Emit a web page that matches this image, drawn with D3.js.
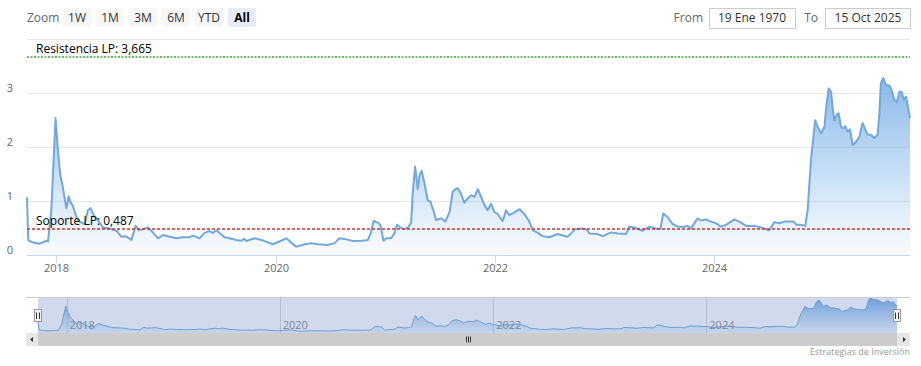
<!DOCTYPE html>
<meta charset="utf-8">
<style>
body { margin: 0; background: #fff; }
svg { font-family: "Open Sans", "Liberation Sans", Arial, sans-serif; }
.grid line { stroke: #e6e6e6; stroke-width: 1px; }
.ylab { fill: #666; font-size: 11px; }
.xlab { fill: #666; font-size: 11px; }
.btn text { font-size: 12px; fill: #333; }
</style>
<svg width="921" height="366"></svg>
<script src="https://cdnjs.cloudflare.com/ajax/libs/d3/7.8.5/d3.min.js"></script>
<script>
var dates = ["2017-09-25","2017-09-29","2017-10-15","2017-11-06","2017-11-29","2017-12-04","2017-12-15","2017-12-29",
  "2018-01-06","2018-01-14","2018-01-21","2018-02-03","2018-02-11","2018-02-16","2018-02-25","2018-03-08","2018-03-19",
  "2018-04-05","2018-04-16","2018-04-25","2018-05-05","2018-05-19","2018-06-05","2018-06-27","2018-07-20","2018-08-05",
  "2018-08-20","2018-09-08","2018-09-22","2018-10-03","2018-10-16","2018-11-02","2018-11-17","2018-12-05","2018-12-22",
  "2019-01-13","2019-02-05","2019-02-26","2019-03-21","2019-04-01","2019-04-23","2019-05-10","2019-05-26","2019-06-06",
  "2019-06-18","2019-07-15","2019-08-01","2019-08-23","2019-09-09","2019-09-18","2019-09-26","2019-10-23","2019-11-15",
  "2019-12-23","2020-01-14","2020-02-06","2020-02-22","2020-03-10","2020-04-07","2020-04-29","2020-05-21","2020-06-23",
  "2020-07-16","2020-08-01","2020-08-24","2020-09-15","2020-10-13","2020-11-04","2020-11-13","2020-11-23","2020-12-07",
  "2020-12-15","2020-12-26","2021-01-04","2021-01-20","2021-01-31","2021-02-09","2021-02-23","2021-03-06","2021-03-17",
  "2021-03-28","2021-04-02","2021-04-10","2021-04-19","2021-04-25","2021-05-02","2021-05-11","2021-05-22","2021-05-31",
  "2021-06-10","2021-06-19","2021-07-06","2021-07-20","2021-08-03","2021-08-13","2021-08-22","2021-08-30","2021-09-10",
  "2021-09-21","2021-10-02","2021-10-14","2021-10-25","2021-11-05","2021-11-16","2021-11-27","2021-12-08","2021-12-19",
  "2021-12-30","2022-01-10","2022-01-27","2022-02-07","2022-02-18","2022-03-07","2022-03-24","2022-04-09","2022-04-26",
  "2022-05-07","2022-05-24","2022-06-09","2022-07-01","2022-07-29","2022-08-31","2022-09-12","2022-09-25","2022-10-15",
  "2022-11-01","2022-11-12","2022-12-09","2022-12-26","2023-01-23","2023-02-14","2023-03-14","2023-03-25","2023-04-11",
  "2023-05-08","2023-05-31","2023-06-22","2023-07-06","2023-07-16","2023-07-31","2023-08-16","2023-09-02","2023-09-24",
  "2023-10-05","2023-10-16","2023-11-07","2023-11-19","2023-12-05","2023-12-22","2024-01-08","2024-01-24","2024-02-10",
  "2024-03-09","2024-03-31","2024-04-17","2024-05-14","2024-06-06","2024-07-03","2024-07-20","2024-08-06","2024-08-22",
  "2024-09-08","2024-09-22","2024-10-02","2024-10-17","2024-10-31","2024-11-08","2024-11-19","2024-12-03","2024-12-11",
  "2024-12-23","2025-01-03","2025-01-10","2025-01-17","2025-01-25","2025-01-30","2025-02-05","2025-02-13","2025-02-19",
  "2025-02-27","2025-03-07","2025-03-13","2025-03-21","2025-03-29","2025-04-07","2025-04-18","2025-04-29","2025-05-10",
  "2025-05-19","2025-05-27","2025-06-07","2025-06-18","2025-06-29","2025-07-05","2025-07-10","2025-07-18","2025-07-27",
  "2025-08-05","2025-08-13","2025-08-24","2025-09-01","2025-09-10","2025-09-17","2025-09-24","2025-10-02","2025-10-07",
  "2025-10-15"];
var values = [1.07,0.28,0.23,0.21,0.265,0.25,0.83,2.54,
  1.95,1.48,1.30,0.87,1.09,0.99,0.91,0.71,0.62,
  0.575,0.83,0.87,0.74,0.65,0.51,0.49,0.45,0.34,
  0.35,0.28,0.54,0.46,0.48,0.51,0.43,0.31,0.37,
  0.34,0.31,0.33,0.33,0.36,0.31,0.41,0.445,0.41,
  0.46,0.33,0.31,0.28,0.265,0.30,0.26,0.31,0.28,
  0.20,0.25,0.31,0.23,0.155,0.20,0.22,0.20,0.185,
  0.22,0.31,0.29,0.26,0.265,0.28,0.40,0.63,0.60,
  0.56,0.265,0.31,0.31,0.40,0.56,0.50,0.48,0.51,
  0.60,1.14,1.64,1.22,1.48,1.56,1.33,1.02,0.99,
  0.83,0.65,0.68,0.62,0.80,1.17,1.22,1.24,1.14,
  0.97,1.05,1.11,1.08,1.22,1.08,0.93,0.83,0.95,
  0.80,0.76,0.63,0.83,0.74,0.79,0.85,0.76,0.62,
  0.46,0.41,0.35,0.33,0.39,0.34,0.40,0.48,0.49,
  0.48,0.40,0.39,0.35,0.42,0.40,0.39,0.525,0.51,
  0.45,0.525,0.49,0.48,0.77,0.70,0.575,0.525,0.525,
  0.54,0.49,0.68,0.64,0.66,0.62,0.59,0.525,0.56,
  0.66,0.60,0.54,0.54,0.51,0.46,0.61,0.59,0.62,
  0.62,0.62,0.56,0.56,0.54,0.83,1.76,2.50,2.38,
  2.26,2.38,2.81,3.09,3.03,2.75,2.50,2.60,2.63,
  2.38,2.35,2.39,2.29,2.33,2.04,2.10,2.19,2.45,
  2.33,2.23,2.23,2.17,2.23,2.63,3.19,3.28,3.15,
  3.15,3.09,2.88,2.84,3.03,3.03,2.88,2.94,2.78,
  2.54];
var yTicks = [0, 1, 2, 3, 4];
var xTicks = ["2018-01-01", "2020-01-01", "2022-01-01", "2024-01-01"];
var zoomButtons = ["1W", "1M", "3M", "6M", "YTD", "All"];
var resistencia = 3.665, soporte = 0.487;
var fromLabel = "19 Ene 1970", toLabel = "15 Oct 2025";

var parse = d3.timeParse("%Y-%m-%d");
var data = dates.map(function(d, i) { return {date: parse(d), v: values[i]}; });

var svg = d3.select("svg");
var pL = 27, pR = 910, pT = 39.4, pB = 255;

var x = d3.scaleTime().domain(d3.extent(data, function(d) { return d.date; })).range([pL, pR]);
var y = d3.scaleLinear().domain([0, 4]).range([pB, pT]);

var defs = svg.append("defs");
var grad = defs.append("linearGradient").attr("id", "fillMain")
  .attr("gradientUnits", "userSpaceOnUse").attr("x1", 0).attr("x2", 0).attr("y1", pT).attr("y2", pB);
grad.append("stop").attr("offset", 0).attr("stop-color", "#6fa8e2").attr("stop-opacity", 1);
grad.append("stop").attr("offset", 1).attr("stop-color", "#7cb5ec").attr("stop-opacity", 0.04);

// range selector
svg.append("text").attr("x", 27).attr("y", 22).attr("fill", "#666").style("font-size", "12px").text("Zoom");
var btn = svg.selectAll(".btn").data(zoomButtons).enter().append("g").attr("class", "btn")
  .attr("transform", function(d, i) { return "translate(" + (63 + i * 33) + ",8)"; });
btn.append("rect").attr("width", 28).attr("height", 19).attr("rx", 2)
  .attr("fill", function(d) { return d == "All" ? "#e6ebf5" : "#f7f7f7"; });
btn.append("text").attr("x", 14).attr("y", 14).attr("text-anchor", "middle")
  .style("font-weight", function(d) { return d == "All" ? "bold" : "normal"; })
  .style("fill", function(d) { return d == "All" ? "#000" : "#333"; })
  .text(function(d) { return d; });

svg.append("text").attr("x", 703).attr("y", 22).attr("text-anchor", "end").attr("fill", "#666").style("font-size", "12px").text("From");
svg.append("rect").attr("x", 709.5).attr("y", 8.5).attr("width", 86).attr("height", 20).attr("fill", "#fff").attr("stroke", "#ccc");
svg.append("text").attr("x", 752).attr("y", 22).attr("text-anchor", "middle").attr("fill", "#333").style("font-size", "12px").text(fromLabel);
svg.append("text").attr("x", 818).attr("y", 22).attr("text-anchor", "end").attr("fill", "#666").style("font-size", "12px").text("To");
svg.append("rect").attr("x", 825.5).attr("y", 8.5).attr("width", 85).attr("height", 20).attr("fill", "#fff").attr("stroke", "#ccc");
svg.append("text").attr("x", 868).attr("y", 22).attr("text-anchor", "middle").attr("fill", "#333").style("font-size", "12px").text(toLabel);

// grid
svg.append("g").attr("class", "grid").selectAll("line").data(yTicks).enter().append("line")
  .attr("x1", pL).attr("x2", pR)
  .attr("y1", function(d) { return Math.round(y(d)) + 0.5; }).attr("y2", function(d) { return Math.round(y(d)) + 0.5; });
svg.selectAll(".ylab").data(yTicks.slice(0, 4)).enter().append("text").attr("class", "ylab")
  .attr("x", 13).attr("y", function(d) { return y(d) - 1; }).attr("text-anchor", "end").text(function(d) { return d; });

// area + line
var area = d3.area().x(function(d) { return x(d.date); }).y0(pB).y1(function(d) { return y(d.v); });
var line = d3.line().x(function(d) { return x(d.date); }).y(function(d) { return y(d.v); });
svg.append("path").datum(data).attr("d", area).attr("fill", "url(#fillMain)");
svg.append("path").datum(data).attr("d", line).attr("fill", "none").attr("stroke", "#72a8dd").attr("stroke-width", 2).attr("stroke-linejoin", "round");

// x axis
svg.append("line").attr("x1", pL).attr("x2", pR).attr("y1", pB + 0.5).attr("y2", pB + 0.5).attr("stroke", "#ccd6eb");
var xt = svg.selectAll(".xt").data(xTicks.map(parse)).enter().append("g").attr("class", "xt")
  .attr("transform", function(d) { return "translate(" + (Math.round(x(d)) + 0.5) + ",0)"; });
xt.append("line").attr("y1", pB).attr("y2", pB + 8).attr("stroke", "#ccd6eb");
xt.append("text").attr("class", "xlab").attr("y", 272).attr("text-anchor", "middle").text(d3.timeFormat("%Y"));

// plot lines
var yR = Math.round(y(resistencia)), yS = Math.round(y(soporte));
svg.append("line").attr("x1", pL).attr("x2", pR).attr("y1", yR).attr("y2", yR)
  .attr("stroke", "#3aab3a").attr("stroke-width", 1.6).attr("stroke-dasharray", "2,1.5");
svg.append("text").attr("x", 36).attr("y", yR - 4).style("font-size", "12px").attr("fill", "#000")
  .text("Resistencia LP: " + d3.format(".3f")(resistencia).replace(".", ","));
svg.append("line").attr("x1", pL).attr("x2", pR).attr("y1", yS).attr("y2", yS)
  .attr("stroke", "#cc3333").attr("stroke-width", 1.6).attr("stroke-dasharray", "3,2");
svg.append("text").attr("x", 36).attr("y", yS - 4).style("font-size", "12px").attr("fill", "#000")
  .text("Soporte LP: " + d3.format(".3f")(soporte).replace(".", ","));

// navigator
var nTop = 297, nBot = 333, nL = 38, nR = 897;
var nx = d3.scaleTime().domain(x.domain()).range([nL, nR]);
var ny = d3.scaleLinear().domain([0, 3.4]).range([nBot, nTop]);
var ngrad = defs.append("linearGradient").attr("id", "fillNav")
  .attr("gradientUnits", "userSpaceOnUse").attr("x1", 0).attr("x2", 0).attr("y1", nTop).attr("y2", nBot);
ngrad.append("stop").attr("offset", 0).attr("stop-color", "#6fa8e2").attr("stop-opacity", 1);
ngrad.append("stop").attr("offset", 1).attr("stop-color", "#7cb5ec").attr("stop-opacity", 0.1);

svg.append("g").attr("class", "grid").selectAll("line").data(xTicks.map(parse)).enter().append("line")
  .attr("x1", function(d) { return Math.round(nx(d)) + 0.5; }).attr("x2", function(d) { return Math.round(nx(d)) + 0.5; })
  .attr("y1", nTop).attr("y2", nBot).style("stroke", "#d8d8d8");
var narea = d3.area().x(function(d) { return nx(d.date); }).y0(nBot).y1(function(d) { return ny(d.v); });
var nline = d3.line().x(function(d) { return nx(d.date); }).y(function(d) { return ny(d.v); });
svg.append("path").datum(data).attr("d", narea).attr("fill", "url(#fillNav)");
svg.append("path").datum(data).attr("d", nline).attr("fill", "none").attr("stroke", "#72a8dd").attr("stroke-width", 1);
svg.selectAll(".nlab").data(xTicks.map(parse)).enter().append("text")
  .attr("x", function(d) { return nx(d) + 3; }).attr("y", 329).attr("fill", "#888").style("font-size", "11px")
  .text(d3.timeFormat("%Y"));
// mask of selected range
svg.append("rect").attr("x", nL).attr("y", nTop).attr("width", nR - nL).attr("height", nBot - nTop)
  .attr("fill", "rgba(102,133,194,0.3)");
svg.append("line").attr("x1", 26).attr("x2", 910).attr("y1", nTop + 0.5).attr("y2", nTop + 0.5).attr("stroke", "#ccc");

// handles
[nL, nR].forEach(function(hx) {
  var h = svg.append("g").attr("transform", "translate(" + Math.round(hx) + ",309)");
  h.append("rect").attr("x", -3.5).attr("y", 0.5).attr("width", 7).attr("height", 12).attr("fill", "#f2f2f2").attr("stroke", "#999");
  h.append("line").attr("x1", -1.5).attr("x2", -1.5).attr("y1", 3.5).attr("y2", 10).attr("stroke", "#333");
  h.append("line").attr("x1", 1.5).attr("x2", 1.5).attr("y1", 3.5).attr("y2", 10).attr("stroke", "#333");
});

// scrollbar
svg.append("rect").attr("x", 26).attr("y", 333).attr("width", 884).attr("height", 13).attr("fill", "#f2f2f2");
svg.append("rect").attr("x", nL).attr("y", 333).attr("width", nR - nL).attr("height", 13).attr("fill", "#cccccc");
svg.append("rect").attr("x", 26).attr("y", 333).attr("width", 12).attr("height", 13).attr("fill", "#e6e6e6");
svg.append("rect").attr("x", nR).attr("y", 333).attr("width", 13).attr("height", 13).attr("fill", "#e6e6e6");
svg.append("path").attr("d", "M33,337 L30,339.5 L33,342 Z").attr("fill", "#333");
svg.append("path").attr("d", "M903,337 L906,339.5 L903,342 Z").attr("fill", "#333");
var cx = Math.round((nL + nR) / 2);
[-2, 0, 2].forEach(function(o) {
  svg.append("line").attr("x1", cx + o + 0.5).attr("x2", cx + o + 0.5).attr("y1", 336.5).attr("y2", 342.5).attr("stroke", "#333");
});

svg.append("text").attr("x", 910).attr("y", 355).attr("text-anchor", "end").attr("fill", "#999").style("font-size", "9px")
  .text("Estrategias de Inversión");
</script>
